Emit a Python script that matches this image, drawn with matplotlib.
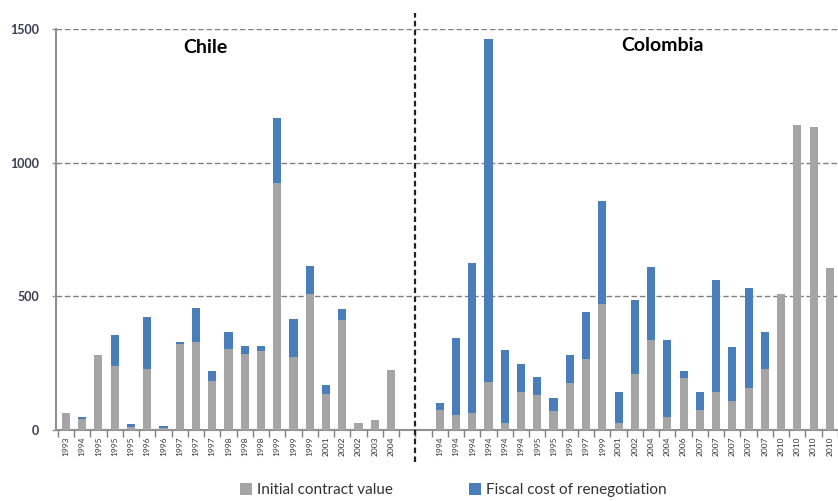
import matplotlib
matplotlib.use("Agg")
import matplotlib.pyplot as plt
import numpy as np

plt.rcParams['font.family'] = ['Lato', 'DejaVu Sans']

# Chile contracts
chile_years = ['1993', '1994', '1995', '1995', '1995', '1996', '1996', '1997', '1997', '1997',
               '1998', '1998', '1998', '1999', '1999', '1999', '2001', '2002', '2002', '2003', '2004']
chile_initial = [65, 40, 281, 239, 12, 228, 9, 323, 331, 183,
                 304, 284, 294, 924, 274, 508, 134, 410, 25, 39, 224]
chile_fiscal = [0, 7, 0, 118, 9, 195, 7, 5, 127, 37,
                64, 32, 22, 243, 140, 105, 36, 43, 0, 0, 0]

# Colombia contracts
col_years = ['1994', '1994', '1994', '1994', '1994', '1994', '1995', '1995', '1996', '1997',
             '1999', '2001', '2002', '2004', '2004', '2006', '2007', '2007', '2007', '2007',
             '2007', '2010', '2010', '2010', '2010']
col_initial = [75, 57, 62, 178, 25, 144, 131, 70, 174, 265,
               471, 25, 209, 337, 50, 193, 75, 141, 107, 157,
               228, 510, 1142, 1132, 607]
col_fiscal = [25, 286, 564, 1284, 274, 102, 68, 51, 108, 178,
              385, 117, 277, 273, 288, 27, 69, 420, 203, 375,
              140, 0, 0, 0, 0]

gray = '#a5a5a5'
blue = '#4a7ebb'

x_chile = np.arange(len(chile_years))
x_col = np.arange(len(col_years)) + len(chile_years) + 2
xs = np.concatenate([x_chile, x_col])
labels = chile_years + col_years
initial = np.array(chile_initial + col_initial)
fiscal = np.array(chile_fiscal + col_fiscal)

fig = plt.figure(figsize=(8.38, 5.01), dpi=100)
ax = fig.add_axes([56/838, 71/501, 782/838, 401/501])

b1 = ax.bar(xs, initial, width=0.5, color=gray, zorder=3, label='Initial contract value')
b2 = ax.bar(xs, fiscal, width=0.5, bottom=initial, color=blue, zorder=3,
            label='Fiscal cost of renegotiation')

ax.set_ylim(0, 1500)
ax.set_xlim(-0.61, 47.07)
ax.set_yticks([0, 500, 1000, 1500])
ax.set_yticklabels(['0', '500', '1000', '1500'], fontsize=9, fontweight='bold', color='#3a3a50')
for y in [500, 1000, 1500]:
    ax.axhline(y, color='#808080', lw=1, ls=(0, (4, 2)), zorder=1)

ax.set_xticks(xs)
ax.set_xticklabels(labels, rotation=90, fontsize=6, color='#333333')
ax.tick_params(axis='x', length=0, pad=5)
ax.set_xticks(np.arange(-0.5, 47.6, 1), minor=True)
ax.tick_params(axis='x', which='minor', length=5, color='#7f7f7f', width=1)
ax.tick_params(axis='y', length=3, color='#909090', width=1, pad=9)

for s in ['top', 'right']:
    ax.spines[s].set_visible(False)
ax.spines['left'].set_color('#909090')
ax.spines['bottom'].set_color('#909090')
ax.spines['left'].set_linewidth(1.5)
ax.spines['bottom'].set_linewidth(1.5)

# divider between countries
ax.plot([21.5, 21.5], [-120, 1560], color='#222222', lw=1.6, ls=(0, (2.5, 1.5)),
        clip_on=False, zorder=4)

ax.text(8.6, 1430, 'Chile', fontsize=14, fontweight='bold', ha='center', va='center')
ax.text(36.7, 1437, 'Colombia', fontsize=14, fontweight='bold', ha='center', va='center')

fig.legend(handles=[b1, b2], loc='center', bbox_to_anchor=(453/838, 11/501), ncol=2,
           frameon=False, fontsize=11, handlelength=0.8, handleheight=0.8,
           handletextpad=0.3, columnspacing=5, labelcolor='#333333')

fig.savefig('out.png', dpi=100)
